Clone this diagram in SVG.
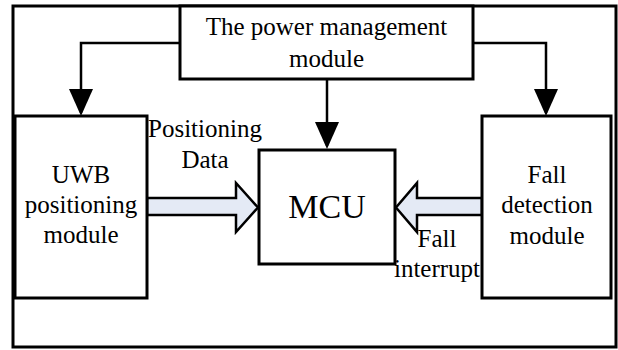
<svg xmlns="http://www.w3.org/2000/svg" width="618" height="350" viewBox="0 0 618 350">
<style>
.box{fill:#fff;stroke:#000;stroke-width:3}
.t{font-family:"Liberation Serif","Times New Roman",serif;font-size:25px;fill:#000;text-anchor:middle}
.big{font-size:34px}
.line{fill:none;stroke:#000;stroke-width:2.5}
.fat{fill:#E4EAF5;stroke:#000;stroke-width:2.5;stroke-linejoin:miter}
</style>
<defs>
<marker id="ah" viewBox="0 0 27 24" refX="24" refY="12" markerWidth="27" markerHeight="24" markerUnits="userSpaceOnUse" orient="auto">
<path d="M0,0 L27,12 L0,24 Z" fill="#000"/>
</marker>
</defs>
<rect id="frame" x="13" y="6" width="603" height="341" fill="#fff" stroke="#000" stroke-width="3"/>
<g id="connectors">
<path class="line" d="M180,43 H81 V113" marker-end="url(#ah)"/>
<path class="line" d="M473,43 H546 V113" marker-end="url(#ah)"/>
<path class="line" d="M327,79 V146" marker-end="url(#ah)"/>
<polygon class="fat" points="147,198 236,198 236,183 258,207.5 236,232 236,215 147,215"/>
<polygon class="fat" points="482,198 417,198 417,183 396,207.5 417,232 417,215 482,215"/>
</g>
<g id="power">
<rect class="box" x="180" y="6" width="293" height="73"/>
<text class="t" x="326.5" y="35">The power management</text>
<text class="t" x="326.5" y="67">module</text>
</g>
<g id="uwb">
<rect class="box" x="15" y="116" width="132" height="182"/>
<text class="t" x="81" y="183">UWB</text>
<text class="t" x="81" y="213">positioning</text>
<text class="t" x="81" y="243">module</text>
</g>
<g id="mcu">
<rect class="box" x="259" y="150" width="136" height="114"/>
<text class="t big" x="327" y="218">MCU</text>
</g>
<g id="fall">
<rect class="box" x="482" y="116" width="129" height="182"/>
<text class="t" x="547" y="183">Fall</text>
<text class="t" x="547" y="213">detection</text>
<text class="t" x="547" y="244">module</text>
</g>
<g id="labels">
<text class="t" x="205" y="137">Positioning</text>
<text class="t" x="205" y="168">Data</text>
<text class="t" x="437" y="247">Fall</text>
<text class="t" x="437" y="277">interrupt</text>
</g>
</svg>
